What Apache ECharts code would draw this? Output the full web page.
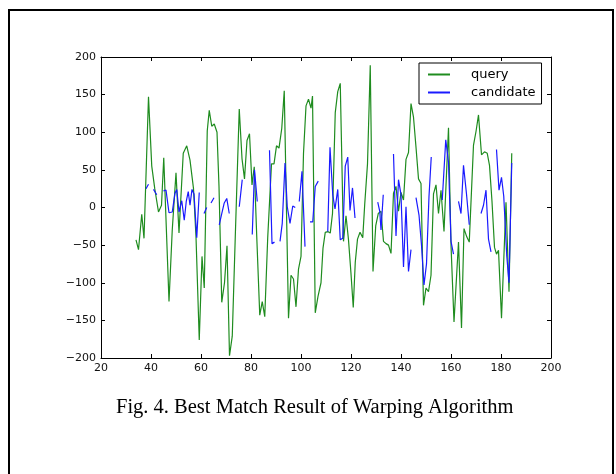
<!DOCTYPE html>
<html>
<head>
<meta charset="utf-8">
<script src="https://cdn.jsdelivr.net/npm/echarts@6/dist/echarts.min.js"></script>
<style>
html,body{margin:0;padding:0;background:#fff;}
#frame{position:absolute;left:8px;top:9px;width:602px;height:480px;border:2px solid #000;}
#chart{position:absolute;left:0;top:0;width:616px;height:474px;}
</style>
</head>
<body>
<div id="frame"></div>
<div id="chart"></div>
<script>
const captionText = 'Fig. 4. Best Match Result of Warping Algorithm';
const seriesNames = ['query', 'candidate'];
const xTicks = [20, 40, 60, 80, 100, 120, 140, 160, 180, 200];
const yTicks = [-200, -150, -100, -50, 0, 50, 100, 150, 200];

const queryX = [34,35,36.3,37.2,39,40.3,41.5,43,44.2,45.1,47.2,48.5,50,51.2,52.9,54.3,55.6,57,58,59.3,60.4,61.3,62.5,63.3,64.3,65.3,66.4,67.2,68.3,69.4,70.4,71.4,72.5,73.7,75.3,76.4,77.4,78.4,79.4,80.4,81.3,82.3,83.5,84.5,85.5,86.7,88.2,89.2,90.2,91.2,92.3,93.3,95,96,97,98,99,100,101,102,103,104,104.6,105.7,106.8,108,108.8,109.7,110.7,111.7,112.6,113.7,114.7,115.7,117,118,119,120,120.9,121.7,122.6,123.6,124.7,125.5,126.6,127.7,128.8,129.9,130.9,132,133,134,135,136,137,138,139,140,141,142,143,144,145,146,147,148,149,150,151,152,153,154,155,156,157.2,159,160,161.2,163,164.2,165.2,166.3,167.3,169,170,171,172.2,173.4,174.5,175.4,176.4,177.4,178.2,179,180.2,182,183.2,184.3];
const queryY = [-43,-56,-9,-41,147,55,25,-6,3,66,-125,-30,46,-34,72,82,63,25,-39,-176,-65,-107,102,129,108,111,100,28,-126,-100,-51,-197,-171,-40,131,65,38,89,98,30,54,-39,-143,-125,-145,-39,58,58,82,79,105,155,-147,-90,-95,-132,-82,-65,72,135,144,132,148,-140,-118,-100,-54,-33,-32,-34,-8,126,154,165,-45,-11,-43,-88,-133,-73,-42,-33,-40,5,58,189,-85,-24,-8,-5,-45,-48,-50,-61,19,28,-5,20,10,64,73,138,120,80,38,32,-130,-107,-112,-90,18,30,-8,23,-32,106,-50,-152,-46,-160,-28,-39,-46,83,101,123,70,74,72,56,8,-53,-62,-57,-147,7,-112,72];

const candX = [38,39,40,41,42.3,43.5,45,46,47.2,48.5,49.6,50.3,51.2,52.3,53.3,54.1,54.9,55.6,56.4,57.2,58.3,59.3,60.3,61.2,62.3,63,64,65.2,66.3,67.3,68.3,69.3,70.3,71.3,73,75.3,76.5,78.5,80.5,81.4,82.5,85,87.4,88.4,89.4,90.5,91.6,92.5,93.6,94.5,95.6,96.7,97.7,98.5,99.3,100.4,101.6,102.6,103.6,104.7,105.7,106.9,109,110.7,111.6,112.7,113.6,114.7,115.7,116.7,117.7,118.7,119.6,120.6,121.6,126,130.7,131.5,132,132.9,135,137,138,139,140,141,142,143,144,145,146,147.2,148.2,149.2,150.2,151.2,152.1,154,156.5,157.9,159,160,161,162,163,164,165,166.2,167.3,170,172,173,174,175,176,177,178.2,179.2,180.2,181.1,182.3,183.2,184.3];
const candY = [25,31,null,24,17,null,22,23,-7,-6,19,24,-6,9,-17,8,21,3,24,18,-40,20,null,-8,0,null,6,13,null,-23,-8,6,12,-8,null,1,37,null,-36,50,8,null,76,-48,-46,null,-45,-21,59,1,-21,2,0,null,8,48,-52,null,-19,-19,28,35,null,-32,80,17,-2,24,-43,-41,55,67,-4,26,-14,null,7,-5,-30,17,null,71,-38,37,17,-79,1,-85,-56,null,13,-10,-50,-103,-75,15,67,null,10,90,60,-45,-62,null,8,-8,56,18,-23,null,-8,3,23,-42,-59,null,77,23,40,15,-64,-100,59];

const toPairs = (xs, ys) => xs.map((x, i) => [x, ys[i] === null ? '-' : ys[i]]);
const minusFmt = v => String(v).replace('-', '\u2212');

const axisFont = { fontFamily: 'DejaVu Sans', fontSize: 11, color: '#111' };

const chart = echarts.init(document.getElementById('chart'), null, { renderer: 'canvas' });
chart.setOption({
  animation: false,
  backgroundColor: 'transparent',
  grid: { left: 101, right: 65, top: 57, bottom: 116, containLabel: false },
  title: {
    text: captionText,
    left: 116, top: 397, padding: 0,
    textStyle: { fontFamily: 'Liberation Serif', fontSize: 20.5, fontWeight: 'normal', color: '#000' }
  },
  legend: {
    orient: 'vertical',
    left: 419, top: 63,
    padding: [4, 6, 4, 9],
    itemGap: 3,
    itemWidth: 22, itemHeight: 2,
    icon: 'rect',
    borderColor: '#000', borderWidth: 1, borderRadius: 0,
    backgroundColor: '#fff',
    data: seriesNames,
    textStyle: { fontFamily: 'DejaVu Sans', fontSize: 13, color: '#000', padding: [0, 0, 0, 16], lineHeight: 15 }
  },
  xAxis: [{
    type: 'value', min: xTicks[0], max: xTicks[xTicks.length - 1], interval: 20,
    axisLine: { onZero: false, lineStyle: { color: '#000', width: 1 } },
    axisTick: { inside: true, length: 4, lineStyle: { color: '#000' } },
    axisLabel: Object.assign({ margin: 5 }, axisFont),
    splitLine: { show: false }
  }, {
    type: 'value', position: 'top', min: xTicks[0], max: xTicks[xTicks.length - 1], interval: 20,
    axisLine: { onZero: false, lineStyle: { color: '#000', width: 1 } },
    axisTick: { inside: true, length: 4, lineStyle: { color: '#000' } },
    axisLabel: { show: false }, splitLine: { show: false }
  }],
  yAxis: [{
    type: 'value', min: yTicks[0], max: yTicks[yTicks.length - 1], interval: 50,
    axisLine: { show: true, onZero: false, lineStyle: { color: '#000', width: 1 } },
    axisTick: { show: true, inside: true, length: 4, lineStyle: { color: '#000' } },
    axisLabel: Object.assign({ margin: 5, formatter: minusFmt }, axisFont),
    splitLine: { show: false }
  }, {
    type: 'value', position: 'right', min: yTicks[0], max: yTicks[yTicks.length - 1], interval: 50,
    axisLine: { show: true, onZero: false, lineStyle: { color: '#000', width: 1 } },
    axisTick: { show: true, inside: true, length: 4, lineStyle: { color: '#000' } },
    axisLabel: { show: false }, splitLine: { show: false }
  }],
  series: [{
    name: seriesNames[0], type: 'line', showSymbol: false, symbol: 'none',
    xAxisIndex: 0, yAxisIndex: 0,
    lineStyle: { color: '#1f8c1f', width: 1.2 }, itemStyle: { color: '#1f8c1f' },
    data: toPairs(queryX, queryY), z: 2
  }, {
    name: seriesNames[1], type: 'line', showSymbol: false, symbol: 'none',
    xAxisIndex: 0, yAxisIndex: 0, connectNulls: false,
    lineStyle: { color: '#1a1aff', width: 1.2 }, itemStyle: { color: '#1a1aff' },
    data: toPairs(candX, candY), z: 3
  }]
});
</script>
</body>
</html>
